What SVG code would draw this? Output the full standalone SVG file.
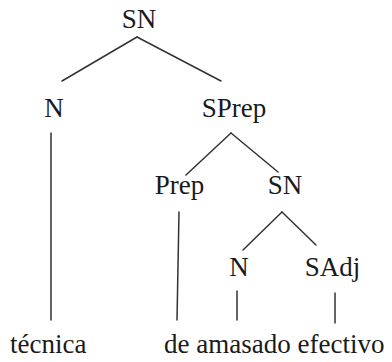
<svg xmlns="http://www.w3.org/2000/svg" width="392" height="362" viewBox="0 0 392 362">
<style>
text{font-family:'Liberation Serif','DejaVu Serif',serif;font-size:27px;fill:#1a1a1a}
.c{text-anchor:middle}
line{stroke:#333;stroke-width:1.5;stroke-linecap:round}
</style>
<rect width="392" height="362" fill="#fff"/>
<g id="connectors">
<line x1="137" y1="37" x2="62" y2="81"/>
<line x1="137" y1="37" x2="221" y2="81"/>
<line x1="51" y1="133" x2="51" y2="320"/>
<line x1="231" y1="133" x2="186" y2="175"/>
<line x1="231" y1="133" x2="278" y2="172"/>
<line x1="179" y1="212" x2="177" y2="320"/>
<line x1="282" y1="212" x2="243" y2="250"/>
<line x1="282" y1="212" x2="316" y2="245"/>
<line x1="237" y1="291" x2="237" y2="320"/>
<line x1="335" y1="293" x2="335" y2="323"/>
</g>
<g id="sn-root"><text class="c" x="139" y="28">SN</text></g>
<g id="n1"><text class="c" x="54" y="117">N</text></g>
<g id="sprep"><text class="c" x="234" y="117">SPrep</text></g>
<g id="prep"><text class="c" x="179.5" y="194">Prep</text></g>
<g id="sn2"><text class="c" x="285" y="194">SN</text></g>
<g id="n2"><text class="c" x="239" y="276">N</text></g>
<g id="sadj"><text class="c" x="332.5" y="276">SAdj</text></g>
<g id="tecnica"><text x="10" y="353">técnica</text></g>
<g id="de-amasado-efectivo"><text x="164" y="353">de amasado efectivo</text></g>
</svg>
